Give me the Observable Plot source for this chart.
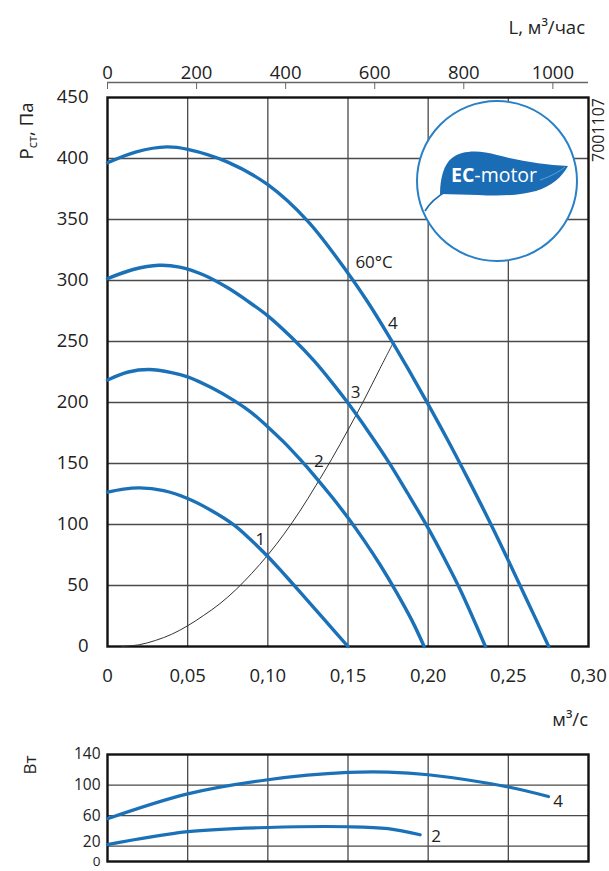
<!DOCTYPE html>
<html><head><meta charset="utf-8">
<script src="https://cdn.jsdelivr.net/npm/d3@7"></script>
<script src="https://cdn.jsdelivr.net/npm/@observablehq/plot@0.6"></script>
<style>
body{margin:0;background:#fff;}
#wrap{position:relative;width:609px;height:871px;overflow:hidden;font-family:"Open Sans",sans-serif;background:#fff;}
#wrap svg{position:absolute;left:0;}
</style></head><body><div id="wrap"></div>
<script>
// ---- tick values & labels ----
const qTicks = [0, 0.05, 0.10, 0.15, 0.20, 0.25, 0.30];
const qTickLabels = ["0", "0,05", "0,10", "0,15", "0,20", "0,25", "0,30"];
const pTicks = [0, 50, 100, 150, 200, 250, 300, 350, 400, 450];
const lTicks = [0, 200, 400, 600, 800, 1000];          // м3/час
const wTicksUpper = [60, 100, 140];
const wTick20 = [20];
const wTick0 = [0];
const wGrid = [20, 60, 100];

// ---- pressure curves (Q m3/s, P Pa) ----
const c1Q = [0, 0.01, 0.02, 0.035, 0.05, 0.065, 0.079, 0.09, 0.10, 0.11, 0.12, 0.135, 0.15];
const c1P = [126.5, 129, 130, 127.7, 121.3, 111.3, 99.5, 86.7, 73.8, 59.5, 44.8, 22.4, 0];
const c2Q = [0, 0.013, 0.026, 0.04, 0.05, 0.065, 0.079, 0.09, 0.10, 0.11, 0.12, 0.13, 0.14, 0.15, 0.16, 0.17, 0.18, 0.19, 0.1975];
const c2P = [218.5, 225, 227, 224.5, 221, 212, 201.5, 191.5, 180, 167.5, 153.5, 138.5, 122.5, 105.5, 87, 67, 45, 21, 0];
const c3Q = [0, 0.016, 0.032, 0.045, 0.06, 0.075, 0.087, 0.10, 0.115, 0.1286, 0.14, 0.15, 0.1625, 0.175, 0.1875, 0.20, 0.21, 0.22, 0.2357];
const c3P = [301.5, 309, 312.5, 311, 304.5, 294, 283.5, 271, 253, 234.5, 216.5, 199.5, 176.5, 152, 125, 97, 72.5, 46.5, 0];
const c4Q = [0, 0.018, 0.037, 0.05, 0.075, 0.10, 0.125, 0.15, 0.1625, 0.175, 0.1875, 0.20, 0.2125, 0.225, 0.2375, 0.25, 0.2625, 0.2752];
const c4P = [396.5, 405.5, 409.5, 407.5, 397, 378.5, 348.5, 306, 282, 255.5, 227.5, 198.5, 168.5, 137, 104.5, 70.5, 35.5, 0];
// system (network) curve
const sysQ = [0.009, 0.02, 0.03, 0.04, 0.05, 0.06, 0.07, 0.08, 0.09, 0.10, 0.11, 0.12, 0.13, 0.14, 0.15, 0.16, 0.17, 0.1786];
const sysP = [0, 1.5, 5, 10, 17, 25.5, 35, 46.5, 60, 75, 92, 111, 132, 154, 177.5, 202, 228, 250];
// curve labels
const labText = ["1", "2", "3", "4"];
const labQ = [0.0954, 0.1318, 0.1547, 0.178];
const labP = [87.5, 151.8, 207.8, 265];
const tempText = ["60°C"];
const tempQ = [0.1546];
const tempP = [315];

// ---- power curves (Q m3/s, W) ----
const b4Q = [0, 0.05, 0.10, 0.15, 0.175, 0.20, 0.25, 0.275];
const b4W = [56, 88.5, 107, 116.5, 117, 113.5, 97.5, 85];
const b2Q = [0, 0.05, 0.10, 0.15, 0.175, 0.195];
const b2W = [22, 39, 44.5, 45.5, 43, 35];
const bLabText = ["4", "2"];
const bLabQ = [0.281, 0.205];
const bLabW = [79, 33];

const blue = "#1a71b8";
const gridColor = "#4a4a4a";
const toRows = (s, Q, V) => Q.map((q, i) => ({s, q, v: V[i]}));
const curves = [...toRows("1", c1Q, c1P), ...toRows("2", c2Q, c2P), ...toRows("3", c3Q, c3P), ...toRows("4", c4Q, c4P)];
const sys = toRows("sys", sysQ, sysP);
const labs = labText.map((t, i) => ({t, q: labQ[i], v: labP[i]}));
const temps = tempText.map((t, i) => ({t, q: tempQ[i], v: tempP[i]}));
const power = [...toRows("4", b4Q, b4W), ...toRows("2", b2Q, b2W)];
const bLabs = bLabText.map((t, i) => ({t, q: bLabQ[i], v: bLabW[i]}));
const lVals = lTicks.map(l => l / 3600);

const fontStyle = {fontFamily: "'Open Sans', sans-serif", fontSize: "18.5px", color: "#222", background: "transparent", overflow: "visible"};

const main = Plot.plot({
  width: 609, height: 700,
  marginLeft: 107, marginRight: 21, marginTop: 97, marginBottom: 54,
  style: fontStyle,
  x: {domain: [0, 0.3]},
  y: {domain: [0, 450]},
  marks: [
    Plot.gridX(qTicks.slice(1, -1), {stroke: gridColor, strokeOpacity: 1, strokeWidth: 1.3}),
    Plot.gridY(pTicks.slice(1, -1), {stroke: gridColor, strokeOpacity: 1, strokeWidth: 1.3}),
    Plot.axisX(qTicks, {anchor: "bottom", tickSize: 0, tickPadding: 22, label: null,
      tickFormat: d => qTickLabels[qTicks.indexOf(d)]}),
    Plot.axisY(pTicks, {anchor: "left", tickSize: 0, tickPadding: 19, label: null}),
    Plot.axisX(lVals, {anchor: "top", tickSize: 6, tickPadding: 4, dy: -9, label: null, stroke: "#666",
      tickFormat: d => String(lTicks[lVals.indexOf(d)])}),
    Plot.ruleY([450], {x1: 0, x2: 0.3, dy: -15, stroke: "#666", strokeWidth: 1.3}),
    Plot.frame({stroke: "#111", strokeWidth: 2.4}),
    Plot.line(sys, {x: "q", y: "v", stroke: "#333", strokeWidth: 1, curve: "catmull-rom"}),
    Plot.line(curves, {x: "q", y: "v", z: "s", stroke: blue, strokeWidth: 3.4, curve: "catmull-rom"}),
    Plot.text(labs, {x: "q", y: "v", text: "t", fill: "#222", fontSize: 17}),
    Plot.text(temps, {x: "q", y: "v", text: "t", fill: "#222", fontSize: 17, textAnchor: "start"})
  ]
});
main.style.top = "0px";

const bottom = Plot.plot({
  width: 609, height: 171,
  marginLeft: 107, marginRight: 21, marginTop: 54, marginBottom: 10,
  style: {...fontStyle, fontSize: "15.5px"},
  x: {domain: [0, 0.3], axis: null},
  y: {domain: [0, 140]},
  marks: [
    Plot.gridX(qTicks.slice(1, -1), {stroke: gridColor, strokeOpacity: 1, strokeWidth: 1.3}),
    Plot.gridY(wGrid, {stroke: gridColor, strokeOpacity: 1, strokeWidth: 1.3}),
    Plot.axisY(wTicksUpper, {anchor: "left", tickSize: 0, tickPadding: 7, label: null}),
    Plot.axisY(wTick20, {anchor: "left", tickSize: 0, tickPadding: 7, label: null, dy: -4}),
    Plot.axisY(wTick0, {anchor: "left", tickSize: 0, tickPadding: 7, label: null, fontSize: 13.5, dy: 0}),
    Plot.frame({stroke: "#111", strokeWidth: 2.4}),
    Plot.line(power, {x: "q", y: "v", z: "s", stroke: blue, strokeWidth: 3.2, curve: "catmull-rom"}),
    Plot.text(bLabs, {x: "q", y: "v", text: "t", fill: "#222", fontSize: 17})
  ]
});
bottom.style.top = "700px";

const wrap = document.getElementById("wrap");
wrap.appendChild(main);
wrap.appendChild(bottom);

// ---- overlay: axis titles, code, logo ----
const ov = d3.create("svg").attr("width", 609).attr("height", 871)
  .style("position", "absolute").style("top", "0px").style("left", "0px")
  .style("font-family", "'Open Sans', sans-serif").style("fill", "#222");

ov.append("text").attr("x", 585).attr("y", 34).attr("text-anchor", "end").attr("font-size", 18.5)
  .text("L, м³/час");
ov.append("text").attr("x", 588).attr("y", 726).attr("text-anchor", "end").attr("font-size", 18.5)
  .text("м³/с");
const pl = ov.append("text").attr("transform", "translate(33,131) rotate(-90)").attr("text-anchor", "middle").attr("font-size", 18.5);
pl.append("tspan").text("Р");
pl.append("tspan").attr("font-size", 13).attr("dy", 4).text("ст");
pl.append("tspan").attr("dy", -4).text(", Па");
ov.append("text").attr("transform", "translate(36,765) rotate(-90)").attr("text-anchor", "middle").attr("font-size", 17)
  .text("Вт");
ov.append("text").attr("transform", "translate(604,130) rotate(-90)").attr("text-anchor", "middle").attr("font-size", 16)
  .text("7001107");

// logo
const lg = ov.append("g");
lg.append("circle").attr("cx", 497).attr("cy", 181).attr("r", 80).attr("fill", "#fff").attr("stroke", "#2a80c6").attr("stroke-width", 2);
lg.append("path").attr("d", "M440,194 C440,178 444,164 452,158 C462,150 480,150 497,155 C520,161 545,165 568,166 C562,177 552,186 536,191 C518,196 497,196 478,195 L440,194 Z")
  .attr("fill", "#1a6db5");
lg.append("path").attr("d", "M448,190 C438,196 430,202 425,211").attr("fill", "none").attr("stroke", "#1a6db5").attr("stroke-width", 1.6);
lg.append("path").attr("d", "M540,180 C552,176 560,171 565,167").attr("fill", "none").attr("stroke", "#5a9fd8").attr("stroke-width", 1);
const lt = lg.append("text").attr("x", 451).attr("y", 182).attr("font-size", 19.5).attr("fill", "#fff");
lt.append("tspan").attr("font-weight", "bold").text("EC");
lt.append("tspan").text("-motor");

wrap.appendChild(ov.node());
</script>
</body></html>
